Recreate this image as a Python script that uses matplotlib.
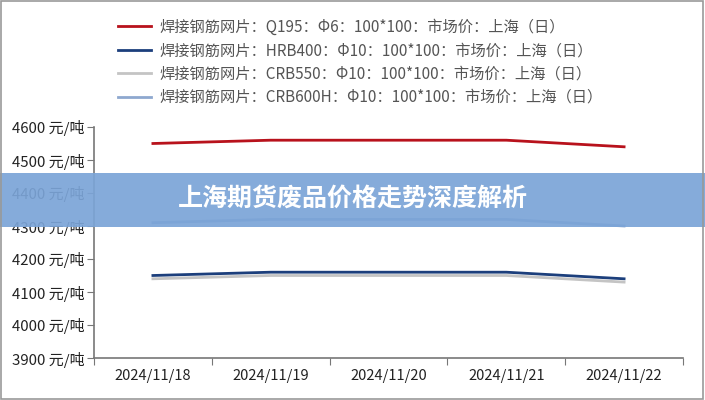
import matplotlib.pyplot as plt
from matplotlib.patches import Rectangle

plt.rcParams['font.family'] = ['Noto Sans CJK SC', 'DejaVu Sans']

# dates et prix (元/吨)
dates = ['2024/11/18', '2024/11/19', '2024/11/20', '2024/11/21', '2024/11/22']
q195 = [4550, 4560, 4560, 4560, 4540]
hrb400 = [4150, 4160, 4160, 4160, 4140]
crb550 = [4140, 4150, 4150, 4150, 4130]
crb600h = [4310, 4320, 4320, 4320, 4300]

noms = ['焊接钢筋网片：Q195：Φ6：100*100：市场价：上海（日）',
        '焊接钢筋网片：HRB400：Φ10：100*100：市场价：上海（日）',
        '焊接钢筋网片：CRB550：Φ10：100*100：市场价：上海（日）',
        '焊接钢筋网片：CRB600H：Φ10：100*100：市场价：上海（日）']
couleurs = ['#b8121c', '#1c3f7c', '#c4c4c4', '#8ea8cf']
series = [q195, hrb400, crb550, crb600h]
titre = '上海期货废品价格走势深度解析'

fig = plt.figure(figsize=(7.05, 4), dpi=100)
ax = fig.add_axes([94 / 705, 1 - 358 / 400, (683 - 94) / 705, (358 - 127) / 400])

x = range(len(dates))
for s, c, n in zip(series, couleurs, noms):
    ax.plot(x, s, color=c, lw=2, label=n)

ax.set_xlim(-0.5, len(dates) - 0.5)
ax.set_ylim(3900, 4600)
ax.set_yticks(range(3900, 4601, 100))
ax.set_yticklabels([f'{v} 元/吨' for v in range(3900, 4601, 100)], fontsize=10.8, color='#222222')
ax.set_xticks([i - 0.5 for i in range(len(dates) + 1)])
ax.set_xticklabels([])
ax.set_xticks(list(x), minor=True)
ax.set_xticklabels(dates, minor=True, fontsize=10.5, color='#222222')
ax.tick_params(axis='x', which='minor', length=0, pad=8)
ax.tick_params(axis='x', which='major', length=5, color='#777777')
ax.tick_params(axis='y', length=5, color='#777777', pad=2)
for sp in ['top', 'right']:
    ax.spines[sp].set_visible(False)
for sp in ['left', 'bottom']:
    ax.spines[sp].set_color('#777777')
    ax.spines[sp].set_linewidth(1.2)

fig.legend(loc='upper left', bbox_to_anchor=(104 / 705, 1 - 5 / 400), frameon=False,
           fontsize=11, handlelength=2.2, handletextpad=0.5, labelspacing=0.42,
           labelcolor='#555555')

# bandeau du titre
fig.patches.append(Rectangle((0, 1 - 227 / 400), 1, 54 / 400, transform=fig.transFigure,
                             facecolor='#7ba4d7', alpha=0.92, edgecolor='none', zorder=5))
fig.text(353 / 705, 1 - 199 / 400, titre, ha='center', va='center', fontsize=18,
         fontweight='bold', color='white', zorder=6)

# cadre
fig.patches.append(Rectangle((0.002, 0.003), 0.995, 0.994, transform=fig.transFigure,
                             facecolor='none', edgecolor='#999999', lw=1.2, zorder=7))

plt.savefig('out.png', dpi=100)
